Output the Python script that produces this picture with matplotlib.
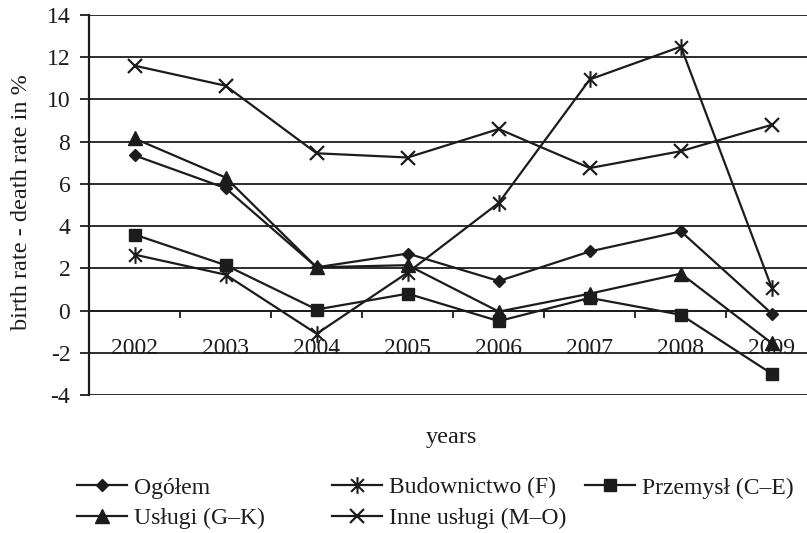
import matplotlib
matplotlib.use("Agg")
import matplotlib.pyplot as plt
from matplotlib.path import Path

plt.rcParams['font.family'] = ['Liberation Serif', 'DejaVu Serif']

years = ['2002', '2003', '2004', '2005', '2006', '2007', '2008', '2009']

ogolem = [7.35, 5.8, 2.05, 2.7, 1.4, 2.8, 3.75, -0.15]
budownictwo = [2.65, 1.7, -1.1, 1.8, 5.1, 10.95, 12.5, 1.05]
przemysl = [3.6, 2.15, 0.05, 0.8, -0.5, 0.6, -0.2, -3.0]
uslugi = [8.15, 6.3, 2.05, 2.15, -0.05, 0.8, 1.75, -1.55]
inne_uslugi = [11.6, 10.65, 7.45, 7.25, 8.6, 6.75, 7.55, 8.8]

ink = '#1c1c1c'
asterisk = Path([(-1, -1), (1, 1), (-1, 1), (1, -1), (0, -1.3), (0, 1.3)],
                [Path.MOVETO, Path.LINETO] * 3)

fig = plt.figure(figsize=(8.07, 5.33), dpi=100, facecolor='white')
# plot area runs past the right edge of the picture, like the cropped original
ax = fig.add_axes([89 / 807, 1 - 395 / 533, (817.5 - 89) / 807, 380 / 533])

x = range(len(years))
common = dict(color=ink, lw=1.6, clip_on=False, zorder=3)
l_og, = ax.plot(x, ogolem, marker='D', ms=6, mfc=ink, mec=ink, label='Ogółem', **common)
l_bu, = ax.plot(x, budownictwo, marker=asterisk, ms=12, mew=1.5, mec=ink,
                label='Budownictwo (F)', **common)
l_pr, = ax.plot(x, przemysl, marker='s', ms=8, mfc=ink, mec=ink, label='Przemysł (C–E)', **common)
l_us, = ax.plot(x, uslugi, marker='^', ms=9.5, mfc=ink, mec=ink, label='Usługi (G–K)', **common)
l_in, = ax.plot(x, inne_uslugi, marker='x', ms=10, mew=1.6, mec=ink,
                label='Inne usługi (M–O)', **common)

ax.set_xlim(-0.5, len(years) - 0.5)
ax.set_ylim(-4, 14)
ax.set_yticks(range(-4, 15, 2))
ax.set_yticklabels([str(v) for v in range(-4, 15, 2)])
ax.yaxis.grid(True, color=ink, lw=1.3)
ax.set_axisbelow(True)

ax.set_xticks(list(x))
ax.set_xticklabels(years)
ax.set_xticks([i + 0.5 for i in range(len(years) - 1)], minor=True)
ax.tick_params(axis='x', which='major', length=0, pad=19.5, labelsize=17, labelcolor=ink)
ax.tick_params(axis='x', which='minor', length=5, width=1.3, color=ink, direction='out')
ax.tick_params(axis='y', length=6.5, width=1.3, color=ink, pad=7, labelsize=17, labelcolor=ink)

ax.spines['top'].set_visible(False)
ax.spines['right'].set_visible(False)
ax.spines['bottom'].set_position(('data', 0))
ax.spines['bottom'].set_color(ink)
ax.spines['bottom'].set_linewidth(1.3)
ax.spines['left'].set_color(ink)
ax.spines['left'].set_linewidth(1.6)

fig.text(22 / 807, 1 - 202 / 533, 'birth rate - death rate in %', rotation=90,
         ha='center', va='center', fontsize=17.5, color=ink)
fig.text(451 / 807, 1 - 438 / 533, 'years', ha='center', va='center',
         fontsize=17.5, color=ink)

# legend laid out in three columns, as in the original
leg_kw = dict(loc='upper left', frameon=False, fontsize=17, borderpad=0,
              borderaxespad=0, handlelength=2.1, handletextpad=0.3,
              labelspacing=0.38, labelcolor=ink)
columns = [([l_og, l_us], 77), ([l_bu, l_in], 332), ([l_pr], 585)]
for handles, x0 in columns:
    fig.legend(handles=handles, bbox_to_anchor=(x0 / 807, 1 - 477 / 533), **leg_kw)

fig.savefig('out.png', dpi=100, facecolor='white')
